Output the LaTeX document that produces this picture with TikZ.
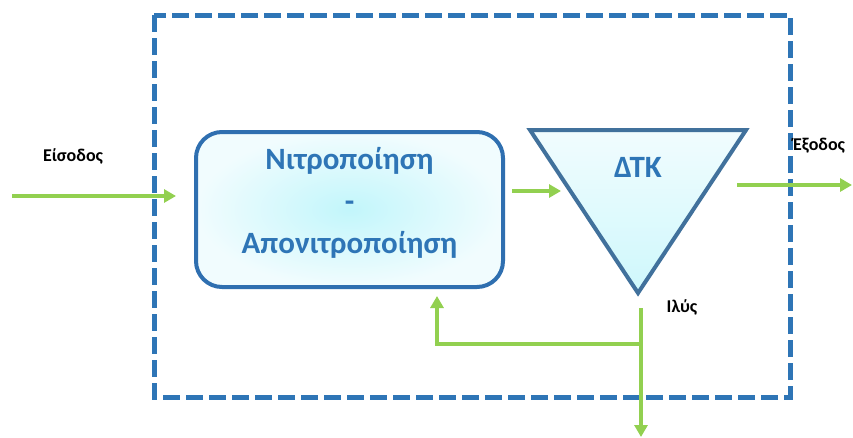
\documentclass[tikz,border=0pt]{standalone}
\usepackage{fontspec}
\setmainfont{Carlito}
\usetikzlibrary{arrows.meta}
\definecolor{frameblue}{HTML}{2E75B6}
\definecolor{boxblue}{HTML}{2F6FB0}
\definecolor{triblue}{HTML}{41719C}
\definecolor{textblue}{HTML}{2E75B6}
\definecolor{flowgreen}{HTML}{92D050}
\definecolor{cyancore}{HTML}{C2F6FB}
\definecolor{cyanedge}{HTML}{F1FCFE}
\tikzset{
  frame/.style={draw=frameblue, line width=5pt, dash pattern=on 17pt off 6pt},
  procbox/.style={draw=boxblue, line width=4pt, rounded corners=26pt,
    inner color=cyancore, outer color=cyanedge, minimum width=307pt, minimum height=155pt,
    text=textblue, font=\bfseries\fontsize{31}{42}\selectfont, align=center},
  clarifier/.style={draw=triblue, line width=4pt, line join=miter,
    top color=cyanedge, bottom color=cyancore!80!white},
  flow/.style={draw=flowgreen, line width=4pt,
    -{Triangle[length=12pt, width=13pt]}},
  lbl/.style={font=\bfseries\fontsize{18}{21}\selectfont, text=black, inner sep=0pt}
}
\begin{document}
\begin{tikzpicture}[x=1pt, y=-1pt]
\useasboundingbox (0,0) rectangle (853,437);
% system boundary
\draw[frame] (154,15) rectangle (790,397);

% nitrification / denitrification reactor
\node[procbox] (proc) at (349.5,209.5) {};
\node[text=textblue, font=\bfseries\fontsize{31}{42}\selectfont, align=center] (proctext) at (349.5,203) {Νιτροποίηση\\-\\Απονιτροποίηση};

% secondary clarifier
\coordinate (tl) at (530,130);
\coordinate (tr) at (746,130);
\coordinate (apex) at (638,293);
\draw[clarifier] (tl) -- (tr) -- (apex) -- cycle;
\node[text=textblue, font=\bfseries\fontsize{31}{34}\selectfont] (dtk) at (638,167) {ΔΤΚ};

% labels
\node[lbl] (in) at (73,156) {Είσοδος};
\node[lbl, anchor=west] (out) at (793,146) {Έξοδος};
\node[lbl] (sludge) at (682,307) {Ιλύς};

% flow ends
\coordinate (src) at (12,196);
\coordinate (procin) at (176,196);
\coordinate (procout) at (512,191);
\coordinate (clin) at (561,191);
\coordinate (clout) at (737,185);
\coordinate (effluent) at (852,185);
\coordinate (sl0) at (641,308);
\coordinate (slsplit) at (641,344);
\coordinate (waste) at (641,437);
\coordinate (rasturn) at (437,344);
\coordinate (rasend) at (437,296);

% flows
\draw[flow] (src) -- (procin);
\draw[flow] (procout) -- (clin);
\draw[flow] (clout) -- (effluent);
\draw[flow] (sl0) -- (waste);
\draw[flow] (slsplit) -- (rasturn) -- (rasend);
\end{tikzpicture}
\end{document}
